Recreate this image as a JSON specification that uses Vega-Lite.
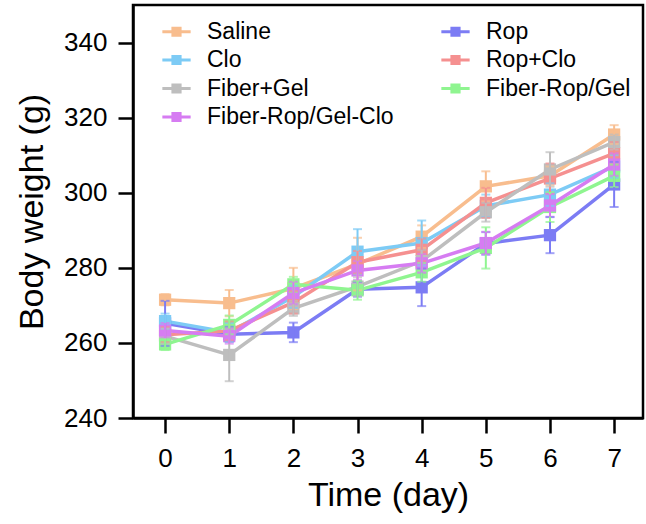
{
  "$schema": "https://vega.github.io/schema/vega-lite/v6.json",
  "autosize": "none",
  "width": 510,
  "height": 413,
  "padding": {"left": 133, "top": 5, "right": 3, "bottom": 106},
  "background": "white",
  "config": {
    "view": {"stroke": "black", "strokeWidth": 2.5},
    "font": "Liberation Sans",
    "axis": {
      "grid": false,
      "domainColor": "black",
      "domainWidth": 2.5,
      "tickColor": "black",
      "tickWidth": 2.5,
      "tickSize": 15,
      "labelFont": "Liberation Sans",
      "labelFontSize": 26,
      "labelColor": "black",
      "titleFont": "Liberation Sans",
      "titleFontSize": 34,
      "titleFontWeight": "normal",
      "titleColor": "black"
    }
  },
  "data": {
    "values": [
      {"group": "Saline", "day": 0, "w": 271.5, "sd": 1.5},
      {"group": "Saline", "day": 1, "w": 270.6, "sd": 3.5},
      {"group": "Saline", "day": 2, "w": 274.5, "sd": 5.5},
      {"group": "Saline", "day": 3, "w": 281.0, "sd": 7.0},
      {"group": "Saline", "day": 4, "w": 288.3, "sd": 3.0},
      {"group": "Saline", "day": 5, "w": 301.7, "sd": 4.0},
      {"group": "Saline", "day": 6, "w": 304.5, "sd": 2.5},
      {"group": "Saline", "day": 7, "w": 315.5, "sd": 2.5},
      {"group": "Rop", "day": 0, "w": 265.2, "sd": 6.0},
      {"group": "Rop", "day": 1, "w": 262.3, "sd": 2.0},
      {"group": "Rop", "day": 2, "w": 262.8, "sd": 2.6},
      {"group": "Rop", "day": 3, "w": 274.3, "sd": 2.0},
      {"group": "Rop", "day": 4, "w": 274.8, "sd": 5.0},
      {"group": "Rop", "day": 5, "w": 286.5, "sd": 3.0},
      {"group": "Rop", "day": 6, "w": 288.7, "sd": 4.8},
      {"group": "Rop", "day": 7, "w": 302.2, "sd": 6.0},
      {"group": "Clo", "day": 0, "w": 265.8, "sd": 2.0},
      {"group": "Clo", "day": 1, "w": 262.8, "sd": 2.5},
      {"group": "Clo", "day": 2, "w": 272.3, "sd": 3.0},
      {"group": "Clo", "day": 3, "w": 284.3, "sd": 6.0},
      {"group": "Clo", "day": 4, "w": 286.6, "sd": 6.0},
      {"group": "Clo", "day": 5, "w": 296.5, "sd": 3.0},
      {"group": "Clo", "day": 6, "w": 299.5, "sd": 3.0},
      {"group": "Clo", "day": 7, "w": 307.0, "sd": 3.0},
      {"group": "Rop+Clo", "day": 0, "w": 262.2, "sd": 2.0},
      {"group": "Rop+Clo", "day": 1, "w": 263.2, "sd": 2.5},
      {"group": "Rop+Clo", "day": 2, "w": 270.8, "sd": 3.0},
      {"group": "Rop+Clo", "day": 3, "w": 281.5, "sd": 3.0},
      {"group": "Rop+Clo", "day": 4, "w": 284.8, "sd": 3.0},
      {"group": "Rop+Clo", "day": 5, "w": 297.3, "sd": 4.0},
      {"group": "Rop+Clo", "day": 6, "w": 303.8, "sd": 4.0},
      {"group": "Rop+Clo", "day": 7, "w": 310.5, "sd": 3.0},
      {"group": "Fiber+Gel", "day": 0, "w": 261.8, "sd": 2.0},
      {"group": "Fiber+Gel", "day": 1, "w": 256.8, "sd": 7.0},
      {"group": "Fiber+Gel", "day": 2, "w": 269.2, "sd": 2.0},
      {"group": "Fiber+Gel", "day": 3, "w": 275.0, "sd": 2.5},
      {"group": "Fiber+Gel", "day": 4, "w": 281.8, "sd": 3.0},
      {"group": "Fiber+Gel", "day": 5, "w": 294.8, "sd": 2.5},
      {"group": "Fiber+Gel", "day": 6, "w": 306.2, "sd": 4.6},
      {"group": "Fiber+Gel", "day": 7, "w": 313.5, "sd": 2.0},
      {"group": "Fiber-Rop/Gel", "day": 0, "w": 259.6, "sd": 1.5},
      {"group": "Fiber-Rop/Gel", "day": 1, "w": 264.8, "sd": 2.5},
      {"group": "Fiber-Rop/Gel", "day": 2, "w": 275.6, "sd": 2.0},
      {"group": "Fiber-Rop/Gel", "day": 3, "w": 274.0, "sd": 2.5},
      {"group": "Fiber-Rop/Gel", "day": 4, "w": 278.8, "sd": 2.5},
      {"group": "Fiber-Rop/Gel", "day": 5, "w": 285.3, "sd": 5.5},
      {"group": "Fiber-Rop/Gel", "day": 6, "w": 296.2, "sd": 4.0},
      {"group": "Fiber-Rop/Gel", "day": 7, "w": 304.5, "sd": 3.0},
      {"group": "Fiber-Rop/Gel-Clo", "day": 0, "w": 263.3, "sd": 2.0},
      {"group": "Fiber-Rop/Gel-Clo", "day": 1, "w": 261.8, "sd": 2.0},
      {"group": "Fiber-Rop/Gel-Clo", "day": 2, "w": 273.3, "sd": 3.0},
      {"group": "Fiber-Rop/Gel-Clo", "day": 3, "w": 279.3, "sd": 2.5},
      {"group": "Fiber-Rop/Gel-Clo", "day": 4, "w": 281.2, "sd": 2.5},
      {"group": "Fiber-Rop/Gel-Clo", "day": 5, "w": 286.6, "sd": 3.0},
      {"group": "Fiber-Rop/Gel-Clo", "day": 6, "w": 296.6, "sd": 3.0},
      {"group": "Fiber-Rop/Gel-Clo", "day": 7, "w": 307.5, "sd": 3.0}
    ]
  },
  "encoding": {
    "x": {
      "field": "day",
      "type": "quantitative",
      "scale": {"domain": [-0.5, 7.45], "nice": false, "zero": false},
      "axis": {"values": [0, 1, 2, 3, 4, 5, 6, 7], "title": "Time (day)", "labelPadding": 12, "titlePadding": 7, "labelFlush": false}
    },
    "y": {
      "field": "w",
      "type": "quantitative",
      "title": "Body weight (g)",
      "scale": {"domain": [240, 350], "nice": false, "zero": false},
      "axis": {"values": [240, 260, 280, 300, 320, 340], "title": "Body weight (g)", "labelPadding": 11, "titlePadding": 14, "labelFlush": false}
    },
    "color": {
      "field": "group",
      "type": "nominal",
      "scale": {
        "domain": ["Saline", "Clo", "Fiber+Gel", "Fiber-Rop/Gel-Clo", "Rop", "Rop+Clo", "Fiber-Rop/Gel"],
        "range": ["#F8BD8E", "#7DCBF5", "#BEBEBE", "#D67CF2", "#7C7CF4", "#F59090", "#8FF590"]
      },
      "legend": {
        "title": null,
        "orient": "none",
        "legendX": 29,
        "legendY": 12,
        "direction": "vertical",
        "columns": 2,
        "columnPadding": 47,
        "rowPadding": 1.5,
        "padding": 0,
        "symbolType": "M-1,-0.11H-0.36V-0.36H0.36V-0.11H1V0.11H0.36V0.36H-0.36V0.11H-1Z",
        "symbolSize": 800,
        "symbolStrokeWidth": 0,
        "symbolOpacity": 1,
        "labelFont": "Liberation Sans",
        "labelFontSize": 23,
        "labelColor": "black",
        "labelOffset": 16,
        "labelLimit": 400,
        "encode": {
          "symbols": {
            "update": {
              "fill": {"scale": "color", "field": "value"},
              "fillOpacity": {"value": 1},
              "strokeWidth": {"value": 0}
            }
          }
        }
      }
    }
  },
  "layer": [
    {
      "mark": {"type": "line", "strokeWidth": 3.5}
    },
    {
      "mark": {"type": "point", "shape": "square", "filled": true, "opacity": 1, "size": 150}
    },
    {
      "mark": {"type": "errorbar", "ticks": {"size": 9, "thickness": 2}, "rule": {"strokeWidth": 2}},
      "encoding": {
        "yError": {"field": "sd"}
      }
    }
  ]
}
